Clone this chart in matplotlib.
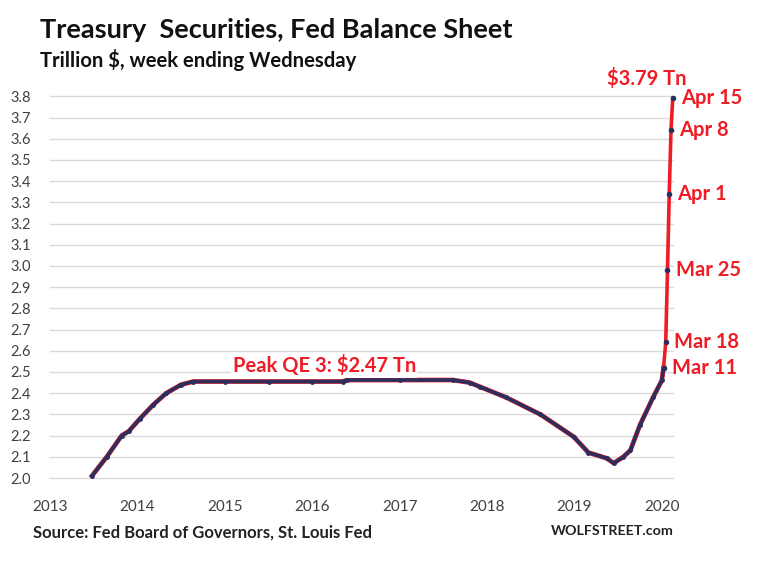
import matplotlib
matplotlib.use("Agg")
import matplotlib.pyplot as plt

# ---- data (x in axis-year units) ----
hist_x = [2013.48, 2013.65, 2013.82, 2013.90, 2014.03, 2014.18, 2014.33, 2014.50, 2014.64,
          2015.0, 2015.5, 2016.0, 2016.35, 2016.40, 2017.0, 2017.61, 2017.80, 2017.92,
          2018.22, 2018.61, 2018.99, 2019.16, 2019.37, 2019.45, 2019.56, 2019.64, 2019.75,
          2019.90, 2020.0, 2020.02]
hist_y = [2.01, 2.10, 2.20, 2.22, 2.28, 2.345, 2.40, 2.44, 2.455,
          2.455, 2.455, 2.455, 2.455, 2.462, 2.462, 2.462, 2.45, 2.43,
          2.38, 2.30, 2.195, 2.12, 2.093, 2.07, 2.10, 2.13, 2.25,
          2.38, 2.46, 2.52]

spike_x = [2020.02, 2020.045, 2020.065, 2020.085, 2020.105, 2020.125]
spike_y = [2.52, 2.64, 2.98, 3.34, 3.64, 3.79]
spike_labels = ["Mar 11", "Mar 18", "Mar 25", "Apr 1", "Apr 8", "Apr 15"]

year_ticks = [2013, 2014, 2015, 2016, 2017, 2018, 2019, 2020]
y_ticks = [2.0, 2.1, 2.2, 2.3, 2.4, 2.5, 2.6, 2.7, 2.8, 2.9, 3.0, 3.1, 3.2,
           3.3, 3.4, 3.5, 3.6, 3.7, 3.8]

peak_text = "Peak QE 3: $2.47 Tn"
top_text = "$3.79 Tn"

FONT = "Lato"
RED = "#ee1c25"
NAVY = "#2b2f5e"
GRAY = "#404040"

fig = plt.figure(figsize=(7.6, 5.68), dpi=100)
ax = fig.add_axes([50/760, (568-478)/568, (673-50)/760, (478-96.3)/568])

ax.set_xlim(2013.0, 2020.128)
ax.set_ylim(2.0, 3.8)
for s in ax.spines.values():
    s.set_visible(False)
ax.set_yticks(y_ticks)
ax.set_yticklabels([f"{v:.1f}" for v in y_ticks], fontsize=10.5, color=GRAY, family=FONT)
ax.set_xticks(year_ticks)
ax.set_xticklabels([str(y) for y in year_ticks], fontsize=11, color=GRAY, family=FONT)
ax.tick_params(axis="y", length=0, pad=14)
ax.tick_params(axis="x", length=0, pad=16)
ax.grid(axis="y", color="#d9d9d9", lw=1)
for gl in ax.get_ygridlines():
    gl.set_clip_on(False)
ax.set_axisbelow(True)

ax.plot(hist_x, hist_y, color=RED, lw=3.4, clip_on=False, zorder=2)
ax.plot(hist_x, hist_y, color=NAVY, lw=2.6, clip_on=False, zorder=3,
        marker="o", ms=2.5, solid_capstyle="round")
ax.plot(spike_x, spike_y, color=RED, lw=2.6, clip_on=False, zorder=4)
ax.plot(spike_x, spike_y, ls="none", marker="o", ms=3, color=NAVY, clip_on=False, zorder=5)

for x, y, lab in zip(spike_x, spike_y, spike_labels):
    ax.annotate(lab, xy=(x, y), xytext=(6, 0), textcoords="offset points",
                ha="left", va="center", color=RED, fontsize=14.5,
                fontweight="bold", family=FONT, annotation_clip=False)

ax.text(2015.09, 2.53, peak_text, color=RED, fontsize=14.5, fontweight="bold",
        family=FONT, ha="left", va="center",
        bbox=dict(facecolor="white", edgecolor="none", pad=1.0), zorder=6)
fig.text(647/760, 1 - 78/568, top_text, color=RED, fontsize=14.5, fontweight="bold",
         family=FONT, ha="center", va="center")

fig.text(40/760, 1 - 30/568, "Treasury  Securities, Fed Balance Sheet", fontsize=19.5,
         fontweight="bold", family=FONT, color="#111111", ha="left", va="center")
fig.text(40/760, 1 - 60/568, "Trillion $, week ending Wednesday", fontsize=14.6,
         fontweight="bold", family=FONT, color="#111111", ha="left", va="center")
fig.text(33/760, 1 - 533/568, "Source: Fed Board of Governors, St. Louis Fed", fontsize=12,
         fontweight="bold", family=FONT, color="#222222", ha="left", va="center")
fig.text(551/760, 1 - 531/568, "WOLFSTREET.com", fontsize=10.3,
         fontweight="bold", family=FONT, color="#222222", ha="left", va="center")

fig.savefig("out.png", dpi=100, facecolor="white")
